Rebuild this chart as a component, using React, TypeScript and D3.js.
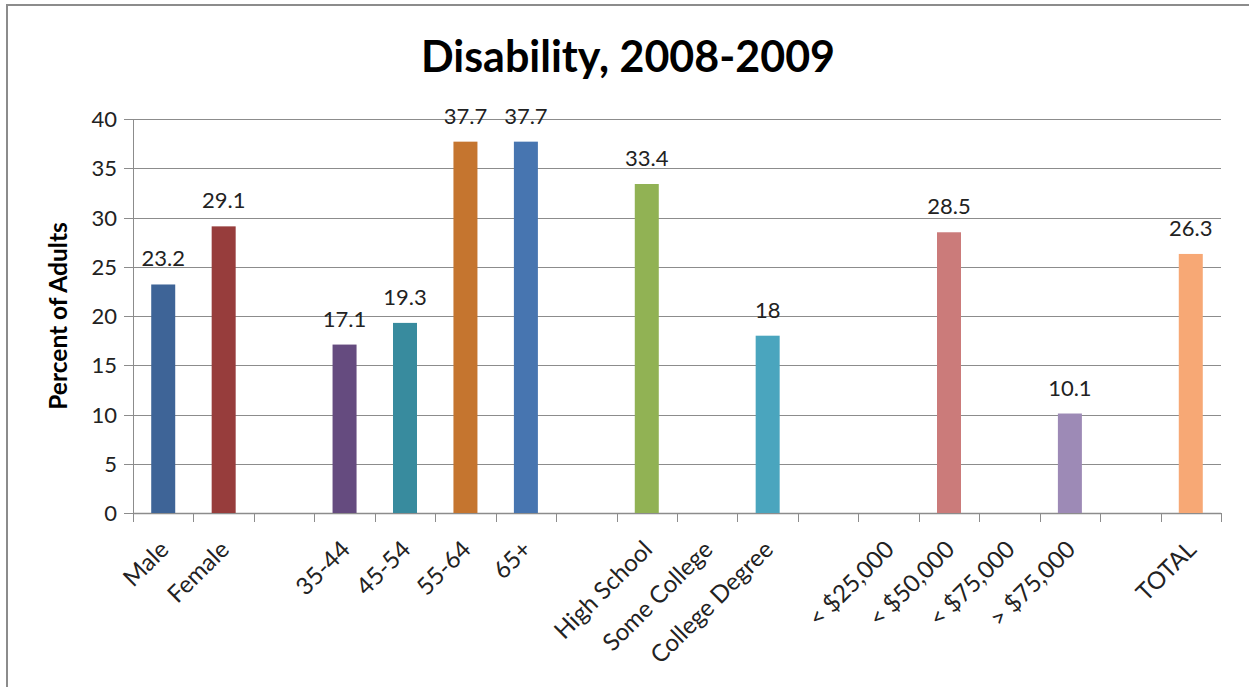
import React from "react";
import * as d3 from "d3";

const categories = [
  "Male", "Female", "", "35-44", "45-54", "55-64", "65+", "",
  "High School", "Some College", "College Degree", "",
  "< $25,000", "< $50,000", "< $75,000", "> $75,000", "", "TOTAL",
];
const values: (number | null)[] = [
  23.2, 29.1, null, 17.1, 19.3, 37.7, 37.7, null,
  33.4, null, 18, null,
  null, 28.5, null, 10.1, null, 26.3,
];
const colors = [
  "#3E6497", "#973D3C", "#888", "#654B7F", "#388B9E", "#C5752F", "#4775B0", "#888",
  "#91B254", "#888", "#4AA5BE", "#888",
  "#888", "#CB7B7A", "#888", "#9D8AB6", "#888", "#F7A875",
];
const yTicks = [0, 5, 10, 15, 20, 25, 30, 35, 40];
const title = "Disability, 2008-2009";
const yTitle = "Percent of Adults";

const W = 1249, H = 687;
const FONT = "Lato, 'Open Sans', sans-serif";

export default function App() {
  const left = 133, right = 1221, top = 119, bottom = 513;
  const x = d3.scaleBand<number>().domain(categories.map((_, i) => i)).range([left, right]).paddingInner(0).paddingOuter(0);
  const y = d3.scaleLinear().domain([0, 40]).range([bottom, top]);
  const bw = x.bandwidth();
  const barW = 24;
  const grey = "#8c8c8c";
  const ticksX = d3.range(categories.length + 1).map((i) => left + i * bw);
  return (
    <svg width={W} height={H} style={{ position: "absolute", left: 0, top: 0, background: "#fff" }} fontFamily={FONT}>
      <rect x={0} y={0} width={W} height={H} fill="#fff" />
      <line x1={7} y1={5} x2={W} y2={5} stroke={grey} strokeWidth={2} />
      <line x1={7} y1={4} x2={7} y2={H} stroke={grey} strokeWidth={2} />
      <text x={628} y={72} textAnchor="middle" fontSize={43} fontWeight="bold" fill="#000">{title}</text>
      {yTicks.map((t) => (
        <g key={t}>
          <line x1={left - 9} x2={right} y1={Math.round(y(t)) + 0.5} y2={Math.round(y(t)) + 0.5} stroke={grey} strokeWidth={1} />
          <text x={117} y={y(t) + 8} textAnchor="end" fontSize={22} fill="#222">{t}</text>
        </g>
      ))}
      <line x1={left + 0.5} x2={left + 0.5} y1={top} y2={bottom + 9} stroke={grey} strokeWidth={1} />
      <line x1={left} x2={right} y1={bottom + 0.5} y2={bottom + 0.5} stroke={grey} strokeWidth={1.5} />
      {ticksX.map((tx, i) => (
        <line key={i} x1={Math.round(tx) + 0.5} x2={Math.round(tx) + 0.5} y1={bottom} y2={bottom + 9} stroke={grey} strokeWidth={1} />
      ))}
      {values.map((v, i) =>
        v == null ? null : (
          <g key={i}>
            <rect x={(x(i) as number) + bw / 2 - barW / 2} y={y(v)} width={barW} height={bottom - y(v)} fill={colors[i]} />
            <text x={(x(i) as number) + bw / 2} y={y(v) - 18} textAnchor="middle" fontSize={22} fill="#222">{String(v)}</text>
          </g>
        )
      )}
      {categories.map((c, i) =>
        c === "" ? null : (
          <text key={i} transform={`translate(${(x(i) as number) + bw / 2 + 7},${bottom + 38}) rotate(-45)`} textAnchor="end" fontSize={24} fill="#222">{c}</text>
        )
      )}
      <text transform={`translate(67,316) rotate(-90)`} textAnchor="middle" fontSize={24.5} fontWeight="bold" fill="#000">{yTitle}</text>
    </svg>
  );
}
